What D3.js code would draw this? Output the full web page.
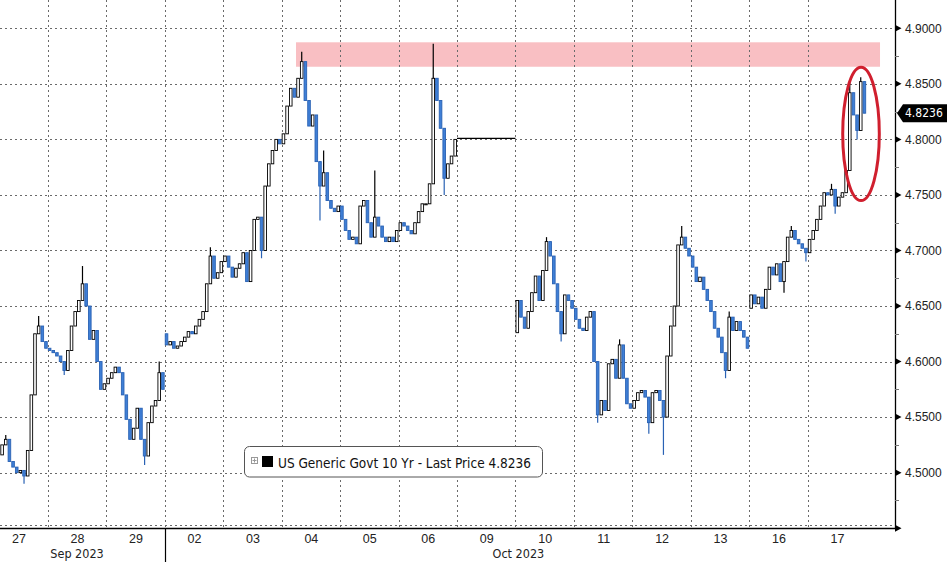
<!DOCTYPE html>
<html><head><meta charset="utf-8">
<script src="https://cdn.jsdelivr.net/npm/d3@7"></script>
<style>
html,body{margin:0;padding:0;background:#fff;}
svg{display:block;font-family:"DejaVu Sans Condensed","DejaVu Sans",sans-serif;}
</style></head><body>
<svg id="chart" width="947" height="562"></svg>
<script>
// ---- data ----
const dayLabels = ["27","28","29","02","03","04","05","06","09","10","11","12","13","16","17"];
const monthLabels = ["Sep 2023","Oct 2023"];
const monthLabelPos = [1.5, 9.05];      // in trading-day units
const monthBreak = 3;                   // Sep -> Oct boundary
const yTicks = [4.50,4.55,4.60,4.65,4.70,4.75,4.80,4.85,4.90];
const yMinor = [4.475,4.525,4.575,4.625,4.675,4.725,4.775,4.825,4.875];

// hourly-ish closes, 16 bars per day (null = no bar)
const c27 = [null,null,null,4.525,4.530,4.510,4.505,4.500,4.502,4.497,4.520,4.570,4.625,4.632,4.618,4.612];
const c28 = [4.610,4.608,4.605,4.600,4.592,4.610,4.632,4.645,4.655,4.670,4.650,4.620,4.628,4.600,4.575,4.580];
const c29 = [4.585,4.590,4.595,4.590,4.570,4.548,4.530,4.540,4.558,4.530,4.515,4.545,4.560,4.565,4.590,4.575];
const c02 = [4.615,4.618,4.612,4.614,4.618,4.622,4.627,4.625,4.632,4.638,4.645,4.670,4.695,4.675,4.680,4.690];
const c03 = [4.695,4.685,4.676,4.684,4.688,4.698,4.672,4.700,4.728,4.730,4.700,4.758,4.778,4.790,4.800,4.796];
const c04 = [4.805,4.830,4.846,4.838,4.855,4.870,4.835,4.812,4.822,4.780,4.758,4.770,4.745,4.738,4.735,4.740];
const c05 = [4.728,4.718,4.710,4.712,4.706,4.740,4.745,4.725,4.712,4.730,4.722,4.712,4.708,4.712,4.708,4.718];
const c06 = [4.725,4.722,4.718,4.715,4.725,4.735,4.742,4.742,4.760,4.855,4.835,4.810,4.765,4.778,4.785,4.800];
const c09 = null; // holiday: flat
const c10 = [4.655,4.640,4.630,4.645,4.662,4.677,4.655,4.682,4.708,4.695,4.670,4.645,4.625,4.660,4.655,4.648];
const c11 = [4.638,4.630,4.628,4.640,4.645,4.600,4.552,4.565,4.556,4.598,4.602,4.585,4.615,4.585,4.562,4.558];
const c12 = [4.565,4.572,4.574,4.568,4.545,4.572,4.574,4.565,4.550,4.605,4.632,4.650,4.705,4.712,4.702,4.695];
const c13 = [4.685,4.672,4.676,4.665,4.655,4.645,4.630,4.622,4.608,4.592,4.640,4.628,4.636,4.628,4.622,4.612];
const c16 = [4.660,4.652,4.658,4.648,4.665,4.685,4.678,4.688,4.672,4.690,4.712,4.718,4.710,4.706,4.702,4.698];
const c17 = [4.710,4.718,4.728,4.740,4.752,4.750,4.755,4.740,4.748,4.752,4.772,4.842,4.822,4.808,4.852,4.8236];
const dayCloses = [c27,c28,c29,c02,c03,c04,c05,c06,c09,c10,c11,c12,c13,c16,c17];
// opening level of the first bar of days that start after a gap
const dayOpens = [4.516,null,null,4.625,null,null,null,null,null,4.626,null,null,null,4.648,null];
const holidayLevel = 4.801; // 09 Oct flat line
// visible wicks: [day, bar, high, low]
const wicks = [
  [0,4,4.534,null],[0,9,null,4.490],[0,13,4.641,null],
  [1,4,null,4.588],[1,9,4.686,null],
  [2,10,null,4.507],[2,14,4.600,null],
  [3,12,4.703,null],
  [4,10,null,4.693],
  [5,5,4.879,null],[5,11,4.790,null],[5,10,null,4.727],
  [6,9,4.772,null],
  [7,9,4.886,null],[7,12,null,4.750],
  [9,8,4.712,null],[9,12,null,4.618],
  [10,6,null,4.545],[10,12,4.620,null],
  [11,4,null,4.535],[11,8,null,4.516],[11,13,4.722,null],
  [12,9,null,4.585],[12,10,4.645,null],
  [13,9,null,4.662],[13,11,4.722,null],[13,15,null,4.690],
  [14,6,4.760,null],[14,7,null,4.733],[14,11,4.852,null],[14,13,null,4.800],[14,14,4.856,null]
];
const lastPrice = 4.8236;
const seriesName = "US Generic Govt 10 Yr - Last Price";
// annotations (trading-day units / yield)
const band = {t0:5.246, t1:15.236, lo:4.8654, hi:4.8874};
const ring = {t:14.911, v:4.8049, rt:0.313, rv:0.060};

// ---- layout ----
const plotR = 895, plotB = 528.2;
const x = d3.scaleLinear().domain([0,15]).range([-10.68, 866.22]);
const y = d3.scaleLinear().domain([4.45,4.90]).range([528.2,28.3]);
const BARS = 16;

const svg = d3.select("#chart");
svg.append("defs").append("clipPath").attr("id","clip")
  .append("rect").attr("x",0).attr("y",0).attr("width",plotR).attr("height",plotB);

// band
svg.append("rect")
  .attr("x",x(band.t0)).attr("width",x(band.t1)-x(band.t0))
  .attr("y",y(band.hi)).attr("height",y(band.lo)-y(band.hi))
  .attr("fill","#f9bfc3");

// gridlines
const grid = svg.append("g").attr("stroke","#6a6a6a").attr("stroke-width",1).attr("stroke-dasharray","2,3");
d3.range(1,15).forEach(t=>{
  grid.append("line").attr("x1",Math.round(x(t))+0.5).attr("x2",Math.round(x(t))+0.5).attr("y1",0).attr("y2",plotB);
});
[4.45].concat(yTicks).forEach(v=>{
  const yy = Math.round(y(v))+0.5 - (v===4.45?3:0);
  grid.append("line").attr("x1",0).attr("x2",plotR).attr("y1",yy).attr("y2",yy);
});

// build bars
const bars = [];
let prev = null;
dayCloses.forEach((arr,d)=>{
  if(!arr){ prev = holidayLevel; return; }
  let first = true;
  arr.forEach((c,j)=>{
    if(c===null) return;
    let o = first && dayOpens[d]!==null ? dayOpens[d] : prev;
    first = false;
    bars.push({d, j, t: d + (j+0.5)/BARS, o, c, h: Math.max(o,c), l: Math.min(o,c)});
    prev = c;
  });
});
wicks.forEach(([d,j,h,l])=>{
  const b = bars.find(b=>b.d===d && b.j===j);
  if(!b) return;
  if(h!==null) b.h = Math.max(b.h,h);
  if(l!==null) b.l = Math.min(b.l,l);
});

const UP_STROKE = "#000", DOWN_FILL = "#3f7fd6", DOWN_STROKE = "#2a62b4";
const data = svg.append("g").attr("clip-path","url(#clip)");
// holiday flat line
data.append("line")
  .attr("x1",x(8)).attr("x2",x(9)).attr("y1",y(holidayLevel)).attr("y2",y(holidayLevel))
  .attr("stroke","#000").attr("stroke-width",1.2);
const bw = 2.6;
const g = data.selectAll("g.bar").data(bars).join("g").attr("class","bar");
g.append("line")
  .attr("x1",b=>x(b.t)).attr("x2",b=>x(b.t))
  .attr("y1",b=>y(b.h)).attr("y2",b=>y(b.l))
  .attr("stroke",b=>b.c>=b.o?UP_STROKE:DOWN_STROKE).attr("stroke-width",1.2);
g.append("rect")
  .attr("x",b=>x(b.t)-bw/2).attr("width",bw)
  .attr("y",b=>y(Math.max(b.o,b.c)))
  .attr("height",b=>Math.max(1,Math.abs(y(b.o)-y(b.c))))
  .attr("fill",b=>b.c>=b.o?"#fff":DOWN_FILL)
  .attr("stroke",b=>b.c>=b.o?UP_STROKE:DOWN_STROKE).attr("stroke-width",0.9);

// ring
svg.append("ellipse")
  .attr("cx",x(ring.t)).attr("cy",y(ring.v))
  .attr("rx",x(ring.t+ring.rt)-x(ring.t)).attr("ry",y(ring.v-ring.rv)-y(ring.v))
  .attr("fill","none").attr("stroke","#d01f2e").attr("stroke-width",3);

// axes lines
svg.append("line").attr("x1",0).attr("x2",plotR).attr("y1",plotB+0.3).attr("y2",plotB+0.3).attr("stroke","#000").attr("stroke-width",1.3);
svg.append("line").attr("x1",plotR+0.5).attr("x2",plotR+0.5).attr("y1",0).attr("y2",plotB).attr("stroke","#000").attr("stroke-width",1.3);

// right axis
const yAxis = d3.axisRight(y).tickValues(yTicks).tickFormat(d3.format(".4f")).tickSize(0).tickPadding(10);
const ya = svg.append("g").attr("transform",`translate(${plotR},0)`).call(yAxis);
ya.select(".domain").remove();
ya.selectAll("text").attr("font-size",12).attr("fill","#222").style("font-family","inherit");
[4.45].concat(yTicks).forEach(v=>{
  svg.append("path").attr("d",`M${plotR},${y(v)-3.5}L${plotR+6.5},${y(v)}L${plotR},${y(v)+3.5}Z`).attr("fill","#000");
});
yMinor.forEach(v=>{
  svg.append("line").attr("x1",plotR).attr("x2",plotR+4).attr("y1",Math.round(y(v))+0.5).attr("y2",Math.round(y(v))+0.5)
    .attr("stroke","#777").attr("stroke-width",1);
});

// last price tag
const ly = y(lastPrice);
svg.append("path").attr("d",`M${plotR+2},${ly}L${plotR+8},${ly-9}L947,${ly-9}L947,${ly+9}L${plotR+8},${ly+9}Z`).attr("fill","#000");
svg.append("text").attr("x",905).attr("y",ly+4.3).attr("fill","#fff").attr("font-size",12).text(d3.format(".4f")(lastPrice));

// bottom axis
const xAxis = d3.axisBottom(x).tickValues(d3.range(15).map(i=>i+0.5)).tickFormat((d,i)=>dayLabels[i]).tickSize(0).tickPadding(6);
const xa = svg.append("g").attr("transform",`translate(0,${plotB})`).call(xAxis);
xa.select(".domain").remove();
xa.selectAll("text").attr("font-size",12.5).attr("fill","#222").style("font-family","inherit");
monthLabels.forEach((m,i)=>{
  svg.append("text").attr("x",x(monthLabelPos[i])).attr("y",558).attr("text-anchor","middle")
    .attr("font-size",12.5).attr("fill","#222").text(m);
});
svg.append("line").attr("x1",Math.round(x(monthBreak))+0.5).attr("x2",Math.round(x(monthBreak))+0.5)
  .attr("y1",plotB).attr("y2",562).attr("stroke","#000").attr("stroke-width",1.2);

// legend
const lg = svg.append("g");
lg.append("rect").attr("x",244.5).attr("y",446.5).attr("width",298).attr("height",30.5).attr("rx",5)
  .attr("fill","#fff").attr("stroke","#555").attr("stroke-width",1);
lg.append("rect").attr("x",251.5).attr("y",457.5).attr("width",6).attr("height",6).attr("fill","#fff").attr("stroke","#999");
lg.append("path").attr("d","M252.5,460.5H256.5M254.5,458.5V462.5").attr("stroke","#999");
lg.append("rect").attr("x",262).attr("y",456).attr("width",11).attr("height",11).attr("fill","#000");
lg.append("text").attr("x",278).attr("y",467.5).attr("font-size",13.5).attr("fill","#111")
  .text(`${seriesName} ${d3.format(".4f")(lastPrice)}`);
</script>
</body></html>
